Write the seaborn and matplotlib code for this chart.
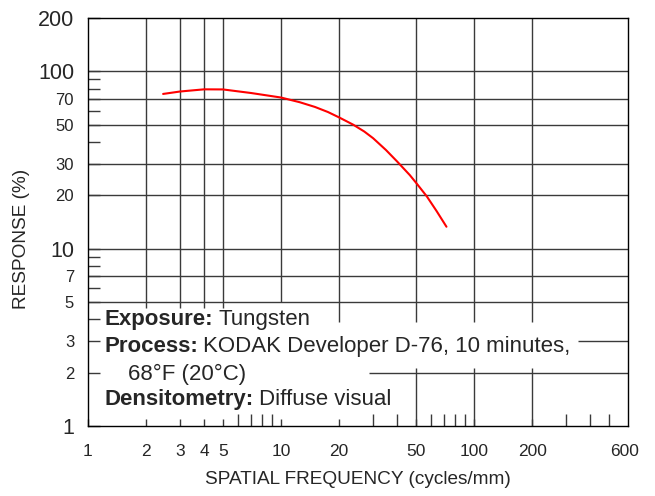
import matplotlib
matplotlib.use('Agg')
import matplotlib.pyplot as plt
import seaborn as sns
import pandas as pd
from matplotlib.ticker import FixedLocator, FixedFormatter, NullFormatter

# odczyty z wykresu (cycles/mm, %)
freq = [2.45, 3, 4, 5, 7, 10, 12.5, 15, 17.5, 20, 23.7, 27, 30, 35, 40, 46.5, 50, 57, 64, 72]
response = [74.6, 77, 79.2, 79.1, 75.5, 71.2, 67, 63, 59, 55, 50, 45.8, 42, 36, 31, 26,
            23.6, 19.7, 16.3, 13.3]

x_ticks = [1, 2, 3, 4, 5, 10, 20, 50, 100, 200, 600]
x_minor = [6, 7, 8, 9, 30, 40, 60, 70, 80, 90, 300, 400, 500]
y_ticks = [1, 2, 3, 5, 7, 10, 20, 30, 50, 70, 100, 200]
y_minor = [4, 6, 8, 9, 40, 60, 80, 90]
y_big = ['1', '10', '100', '200']

notes = [('Exposure:', 'Tungsten'),
         ('Process:', 'KODAK Developer D-76, 10 minutes,'),
         ('', '68°F (20°C)'),
         ('Densitometry:', 'Diffuse visual')]

sns.set_style('white')
plt.rcParams['font.family'] = ['Liberation Sans', 'DejaVu Sans']

df = pd.DataFrame({'freq': freq, 'response': response})

fig = plt.figure(figsize=(6.55, 4.96), dpi=100)
ax = fig.add_axes([88 / 655, 1 - 426 / 496, 540 / 655, 408 / 496])

XMAX = 628
ax.set_xscale('log')
ax.set_yscale('log')
ax.set_xlim(1, XMAX)
ax.set_ylim(1, 200)

# siatka - odcinki przerwane w miejscu opisu
gc = '#3a3a3a'
glw = 1.0
ax.hlines([5, 7, 10, 20, 30, 50, 70, 100], 1, XMAX, color=gc, lw=glw, zorder=1)
ax.hlines([3], 346, XMAX, color=gc, lw=glw, zorder=1)
ax.hlines([2], 28.6, XMAX, color=gc, lw=glw, zorder=1)
ax.vlines([2, 3, 4, 5], 4.6, 200, color=gc, lw=glw, zorder=1)
ax.vlines([10], 5, 200, color=gc, lw=glw, zorder=1)
ax.vlines([20, 50, 100, 200], 3.84, 200, color=gc, lw=glw, zorder=1)
ax.vlines([50, 100, 200], 1, 2.12, color=gc, lw=glw, zorder=1)

sns.lineplot(data=df, x='freq', y='response', color='#ff0000', lw=1.5,
             sort=False, ax=ax, zorder=3)

ax.xaxis.set_major_locator(FixedLocator(x_ticks))
ax.xaxis.set_major_formatter(FixedFormatter([str(v) for v in x_ticks]))
ax.xaxis.set_minor_locator(FixedLocator(x_minor))
ax.xaxis.set_minor_formatter(NullFormatter())
ax.yaxis.set_major_locator(FixedLocator(y_ticks))
ax.yaxis.set_major_formatter(FixedFormatter([str(v) for v in y_ticks]))
ax.yaxis.set_minor_locator(FixedLocator(y_minor))
ax.yaxis.set_minor_formatter(NullFormatter())

ax.tick_params(axis='x', which='major', direction='in', length=5, width=1,
               color=gc, labelsize=12.5, pad=13, bottom=True, top=False)
ax.tick_params(axis='x', which='minor', direction='in', length=8.3, width=1,
               color=gc, bottom=True, top=False)
ax.tick_params(axis='y', which='both', direction='in', length=8.5, width=1,
               color=gc, labelsize=12, pad=10, left=True, right=False)
ax.xaxis.get_major_ticks()[-1].tick1line.set_visible(False)
for lab in ax.get_yticklabels():
    if lab.get_text() in y_big:
        lab.set_fontsize(15.5)

for s in ax.spines.values():
    s.set_color('black')
    s.set_linewidth(1.0)

ax.set_xlabel('SPATIAL FREQUENCY (cycles/mm)', fontsize=13.7)
ax.set_ylabel('RESPONSE (%)', fontsize=13.7)
ax.xaxis.set_label_coords(0.5, -0.11)
ax.yaxis.set_label_coords(-0.107, 0.458)

# opis warunków pomiaru
rows_y = [0.262, 0.196, 0.127, 0.064]
for (bold, normal), yy in zip(notes, rows_y):
    if bold:
        t = ax.text(0.031, yy, bold, transform=ax.transAxes, fontsize=16,
                    fontweight='bold', ha='left', va='center', zorder=4)
        ax.annotate(normal, xy=(1, 0), xycoords=t, xytext=(3.5, 0),
                    textcoords='offset points', fontsize=16,
                    ha='left', va='bottom', zorder=4)
    else:
        ax.text(0.074, yy, normal, transform=ax.transAxes, fontsize=16,
                ha='left', va='center', zorder=4)

fig.savefig('out.png', dpi=100)
